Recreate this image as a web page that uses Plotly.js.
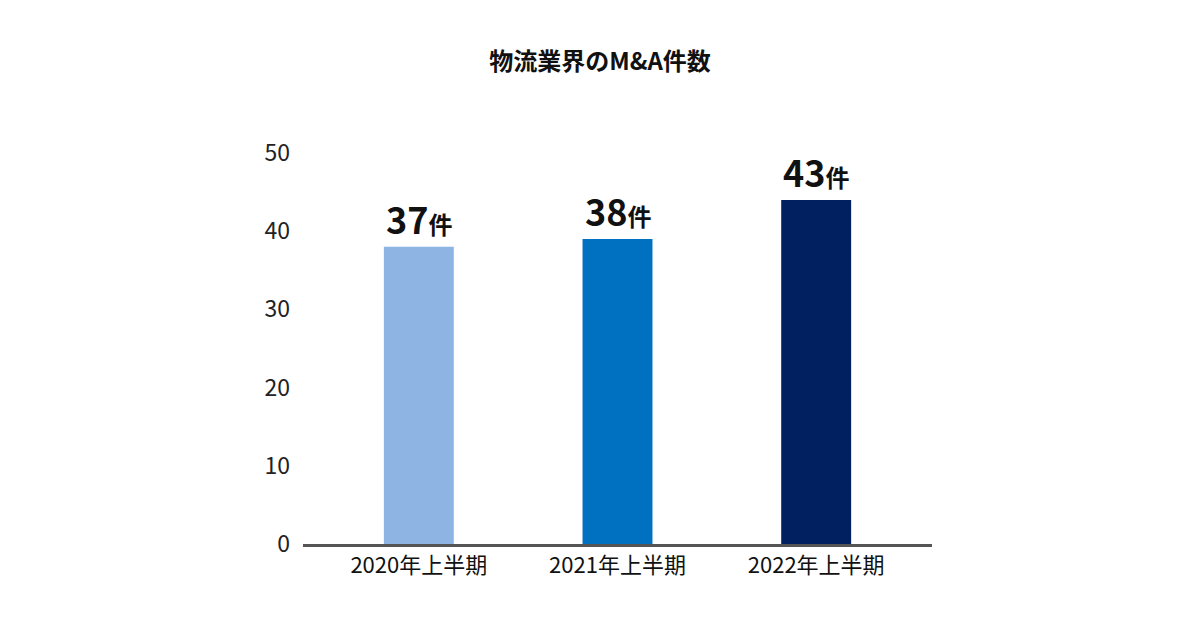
<!DOCTYPE html>
<html><head><meta charset="utf-8">
<script src="https://cdn.plot.ly/plotly-3.0.1.min.js"></script>
<style>html,body{margin:0;padding:0;background:#fff}#chart{width:1200px;height:630px}</style>
</head><body><div id="chart"></div>
<script>
const categories = ["2020年上半期", "2021年上半期", "2022年上半期"];
const barHeights = [38, 39, 44];
const labelValues = [37, 38, 43];
const colors = ["#8db4e2", "#0070c0", "#002060"];
const yTicks = [0, 10, 20, 30, 40, 50];

const font = '"Noto Sans CJK JP", "Noto Sans", sans-serif';

const trace = {
  type: 'bar', x: categories, y: barHeights,
  marker: {color: colors}, width: 0.352, hoverinfo: 'none'
};
const annotations = categories.map((c, i) => ({
  x: c, y: barHeights[i], xref: 'x', yref: 'y',
  text: '<b>' + labelValues[i] + '</b><b><span style="font-size:24px">件</span></b>',
  showarrow: false, yanchor: 'bottom', yshift: 1,
  font: {family: font, size: 36, color: '#111'}
}));

Plotly.newPlot('chart', [trace], {
  width: 1200, height: 630,
  margin: {l: 303, r: 268, t: 153, b: 86},
  paper_bgcolor: '#fff', plot_bgcolor: '#fff',
  title: {text: '<b>物流業界のM&A件数</b>', x: 0.5, xanchor: 'center', y: 0.902, yanchor: 'middle',
    font: {family: font, size: 24, color: '#111'}},
  xaxis: {range: [-0.583, 2.583], showgrid: false, zeroline: false,
    showline: true, linecolor: '#555', linewidth: 3, ticks: '',
    tickfont: {family: font, size: 22, color: '#111'}, fixedrange: true},
  yaxis: {range: [0, 50], tickvals: yTicks, showgrid: false, zeroline: false,
    showline: false, ticks: '', ticklabelstandoff: 12,
    tickfont: {family: font, size: 23, color: '#222'}, fixedrange: true},
  annotations: annotations, showlegend: false
}, {displayModeBar: false, staticPlot: true});
</script></body></html>
